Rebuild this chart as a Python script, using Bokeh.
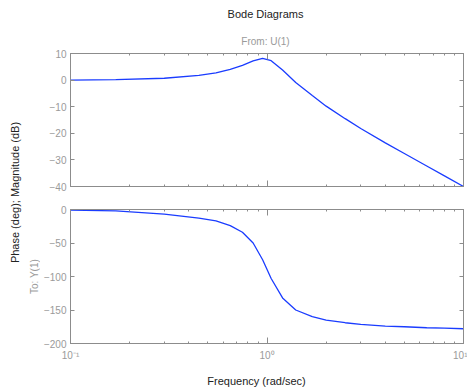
import math
from bokeh.plotting import figure
from bokeh.layouts import column, row
from bokeh.models import FixedTicker, LinearAxis, LogAxis, Range1d
from bokeh.core.properties import value
from bokeh.embed import file_html
from bokeh.resources import INLINE

# ---- data ----
freq = [0.1, 0.17, 0.3, 0.45, 0.55, 0.65, 0.75, 0.85, 0.95, 1.05, 1.2, 1.4,
        1.7, 2.0, 2.5, 3.0, 4.0, 5.0, 6.5, 8.0, 10.0]
magnitude_db = [0.0, 0.2, 0.7, 1.8, 2.7, 4.0, 5.5, 7.2, 8.2, 7.3, 3.8, -0.9,
                -5.8, -9.8, -14.5, -18.2, -23.6, -27.6, -32.3, -36.0, -40.0]
phase_deg = [-1, -2, -7, -13, -17, -24, -34, -50, -75, -103, -132, -150,
             -160, -165, -169, -171.5, -174, -175, -176.5, -177, -178]

x_major = [0.1, 1, 10]
x_minor = [0.2, 0.3, 0.4, 0.5, 0.6, 0.7, 0.8, 0.9, 2, 3, 4, 5, 6, 7, 8, 9]
x_labels = {0.1: "10⁻¹", 1: "10⁰", 10: "10¹"}
mag_ticks = [-40, -30, -20, -10, 0, 10]
phase_ticks = [-200, -150, -100, -50, 0]

FONT = "Liberation Sans"
GRAY = "#8c8c8c"
LABEL_GRAY = "#9a9a9a"
DARK = "#222222"
LINE = "#1a3cff"

# ---- layout constants (pixels) ----
W, H = 467, 390
HEADER_H = 48
FOOTER_H = 22
STRIP_W = 40
TOP_H = 197 - HEADER_H
BOT_H = H - HEADER_H - FOOTER_H - TOP_H


def style_axis(ax, show_labels):
    ax.axis_line_color = GRAY
    ax.major_tick_line_color = GRAY
    ax.minor_tick_line_color = GRAY
    ax.major_tick_in = 4
    ax.major_tick_out = 0
    ax.minor_tick_in = 2
    ax.minor_tick_out = 0
    ax.major_label_text_font = FONT
    ax.major_label_text_color = LABEL_GRAY
    if show_labels:
        ax.major_label_text_font_size = "10px"
        ax.major_label_standoff = 4
    else:
        ax.major_label_text_font_size = "1px"
        ax.major_label_text_alpha = 0
        ax.major_label_standoff = 0


def make_panel(height, yr, yticks, ydata, top_border, bottom_border, show_x):
    p = figure(width=W - STRIP_W, height=height, x_axis_type="log",
               x_range=Range1d(0.1, 10), y_range=Range1d(*yr),
               output_backend="svg", toolbar_location=None,
               min_border_left=68 - STRIP_W, min_border_right=4,
               min_border_top=top_border, min_border_bottom=bottom_border)
    p.outline_line_color = GRAY
    p.xgrid.visible = False
    p.ygrid.visible = False

    p.xaxis.ticker = FixedTicker(ticks=x_major, minor_ticks=x_minor)
    p.yaxis.ticker = FixedTicker(ticks=yticks, minor_ticks=[])
    style_axis(p.xaxis[0], show_x)
    style_axis(p.yaxis[0], True)
    p.xaxis.major_tick_in = 6
    if show_x:
        p.xaxis.major_label_overrides = x_labels
        p.xaxis.major_label_standoff = 6

    ra = LinearAxis(ticker=FixedTicker(ticks=yticks, minor_ticks=[]))
    style_axis(ra, False)
    p.add_layout(ra, "right")
    aa = LogAxis(ticker=FixedTicker(ticks=x_major, minor_ticks=x_minor))
    style_axis(aa, False)
    aa.major_tick_in = 6
    p.add_layout(aa, "above")

    p.line(freq, ydata, line_color=LINE, line_width=1.3)
    return p


def blank(width, height, x0, x1, y0, y1):
    f = figure(width=width, height=height, x_range=Range1d(x0, x1),
               y_range=Range1d(y0, y1), output_backend="svg",
               toolbar_location=None, x_axis_location=None,
               y_axis_location=None, min_border=0)
    f.outline_line_color = None
    f.xgrid.visible = False
    f.ygrid.visible = False
    return f


top = make_panel(TOP_H, (-40, 10), mag_ticks, magnitude_db, 53 - HEADER_H, 11, False)
bot = make_panel(BOT_H, (-200, 0), phase_ticks, phase_deg, 12,
                 BOT_H - 12 - 134, True)

# header strip: page-pixel coordinates (y downward)
header = blank(W, HEADER_H, 0, W, HEADER_H, 0)
header.text(x=[265], y=[13.5], text=["Bode Diagrams"], text_align="center",
            text_baseline="middle", text_font=value(FONT),
            text_font_size="11px", text_color=DARK)
header.text(x=[265], y=[40.5], text=["From: U(1)"], text_align="center",
            text_baseline="middle", text_font=value(FONT),
            text_font_size="10px", text_color=LABEL_GRAY)

# left strip: page-pixel coordinates (y downward)
strip = blank(STRIP_W, H - HEADER_H - FOOTER_H, 0, STRIP_W, H - FOOTER_H, HEADER_H)
strip.text(x=[14], y=[192], text=["Phase (deg); Magnitude (dB)"],
           angle=math.pi / 2, text_align="center", text_baseline="middle",
           text_font=value(FONT), text_font_size="11px", text_color=DARK)
strip.text(x=[34], y=[276], text=["To: Y(1)"], angle=math.pi / 2,
           text_align="center", text_baseline="middle",
           text_font=value(FONT), text_font_size="10px",
           text_color=LABEL_GRAY)

# footer strip: page-pixel coordinates (y downward)
footer = blank(W, FOOTER_H, 0, W, H, H - FOOTER_H)
footer.text(x=[256], y=[380], text=["Frequency (rad/sec)"],
            text_align="center", text_baseline="middle",
            text_font=value(FONT), text_font_size="11px", text_color=DARK)

layout = column(header,
                row(strip, column(top, bot, spacing=0), spacing=0),
                footer, spacing=0)
open("out.html", "w").write(file_html(layout, INLINE))
